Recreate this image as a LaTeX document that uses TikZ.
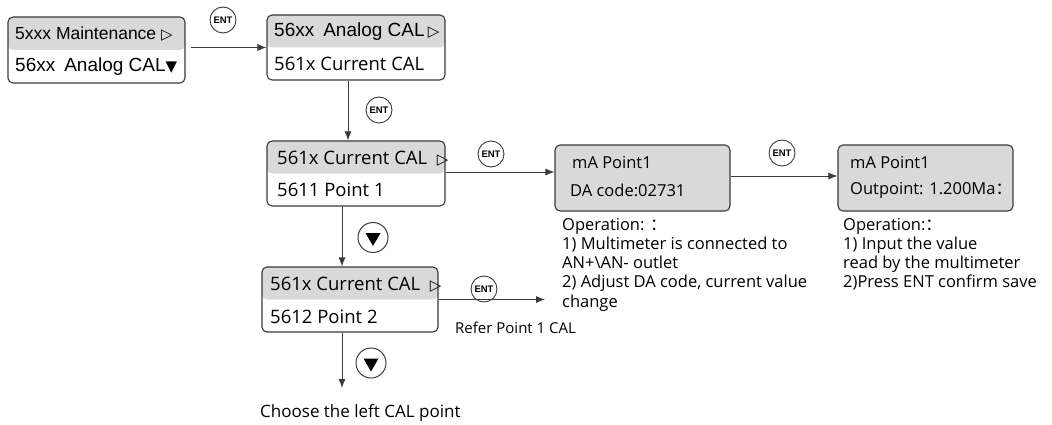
\documentclass[tikz,border=0pt]{standalone}
\usepackage{fontspec}
\setmainfont{Open Sans}
\newfontfamily\arialfont{Liberation Sans}
\newfontfamily\symfont{DejaVu Sans}
\newfontfamily\cjkfont{Noto Sans CJK SC}
\usetikzlibrary{arrows.meta, positioning, calc}
\definecolor{boxgray}{HTML}{D9D9D9}
\definecolor{linegray}{HTML}{3A3A3A}
\tikzset{
  menubox/.style={draw=linegray, line width=1.1pt, rounded corners=5pt, minimum width=177pt, minimum height=65pt, inner sep=0pt},
  halfgray/.style={menubox, path picture={\fill[boxgray] (path picture bounding box.north west) rectangle (path picture bounding box.east);}},
  fullgray/.style={menubox, fill=boxgray},
  flow/.style={draw=linegray, line width=0.9pt, -{Latex[length=9pt,width=7pt]}},
  entkey/.style={circle, draw=linegray, line width=0.9pt, minimum size=26pt, inner sep=0pt, font=\arialfont\bfseries\fontsize{9.5}{9.5}\selectfont},
  downkey/.style={circle, draw=linegray, line width=1pt, minimum size=30pt, inner sep=0pt, path picture={\fill[black] ($(path picture bounding box.center)+(-7.5,-4.5)$) -- ++(15,0) -- ++(-7.5,13) -- cycle;}},
  boxtext/.style={anchor=west, inner sep=0pt, font=\fontsize{18.5}{18.5}\selectfont},
  screentext/.style={anchor=west, inner sep=0pt, font=\fontsize{16.5}{16.5}\selectfont},
  arialtext/.style={anchor=west, inner sep=0pt, font=\arialfont\fontsize{17.5}{17.5}\selectfont},
  optext/.style={anchor=north west, inner sep=0pt, align=left, font=\fontsize{16.5}{19.2}\selectfont},
}
\begin{document}
\begin{tikzpicture}[x=1pt, y=-1pt]
\useasboundingbox (0,0) rectangle (1052,425);

\node[halfgray, minimum height=66pt] (maint) at (96.5,50) {};
\node[halfgray, minimum width=178pt] (analog) at (356,47.5) {};
\node[halfgray, minimum width=178pt] (current) at (356,173.5) {};
\node[halfgray, minimum width=176pt] (point2) at (350,299.5) {};
\node[fullgray, minimum width=175pt, minimum height=66pt] (dacode) at (642.5,178) {};
\node[fullgray, minimum width=175pt, minimum height=66pt] (outpoint) at (925.5,178) {};

\node[arialtext] (maintTop) at (15,34) {5xxx Maintenance {\symfont\fontsize{15}{15}\selectfont ▷}};
\node[arialtext, font=\arialfont\fontsize{19}{19}\selectfont] (maintBot) at (15,67) {56xx\hspace{9pt}Analog CAL{\symfont\fontsize{15}{15}\selectfont ▼}};
\node[arialtext, font=\arialfont\fontsize{19}{19}\selectfont] (analogTop) at (274,32) {56xx\hspace{9pt}Analog CAL\,{\symfont\fontsize{15}{15}\selectfont ▷}};
\node[boxtext] (analogBot) at (274,64) {561x Current CAL};
\node[boxtext] (currentTop) at (277,159) {561x Current CAL\ \ {\symfont\fontsize{15}{15}\selectfont ▷}};
\node[boxtext] (currentBot) at (277,190) {5611 Point 1};
\node[boxtext] (point2Top) at (270,285) {561x Current CAL\ \ {\symfont\fontsize{15}{15}\selectfont ▷}};
\node[boxtext] (point2Bot) at (270,317) {5612 Point 2};
\node[screentext] (dacodeTop) at (572,163) {mA Point1};
\node[screentext] (dacodeBot) at (570,190) {DA code:02731};
\node[screentext] (outpointTop) at (850,163) {mA Point1};
\node[screentext] (outpointBot) at (850,190) {Outpoint: 1.200Ma{\cjkfont ：}};

\node[optext] (dacodeOp) at (562,218) {Operation: {\cjkfont ：}\\1) Multimeter is connected to\\AN+\textbackslash AN- outlet\\2) Adjust DA code, current value\\change};
\node[optext] (outpointOp) at (843,218) {Operation:{\cjkfont ：}\\1) Input the value\\read by the multimeter\\2)Press ENT confirm save};
\node[boxtext, font=\fontsize{15}{15}\selectfont] (refer) at (455,328) {Refer Point 1 CAL};
\node[boxtext, font=\fontsize{17}{17}\selectfont] (choose) at (260,413) {Choose the left CAL point};

\node[entkey] (ent1) at (223,20) {ENT};
\node[entkey] (ent2) at (379,110) {ENT};
\node[entkey] (ent3) at (491,154) {ENT};
\node[entkey] (ent4) at (782,153) {ENT};
\node[entkey] (ent5) at (484,289) {ENT};
\node[downkey] (down1) at (373,237.5) {};
\node[downkey] (down2) at (371,363) {};

\coordinate (referEnd) at (545,299.5);
\coordinate (chooseEnd) at (342,388);

\draw[flow, shorten <=5pt] (maint.east |- analog.west) -- (analog.west);
\draw[flow] ([xshift=-8pt]analog.south) -- ([xshift=-8pt]analog.south |- current.north);
\draw[flow] ([xshift=-8pt]point2.north |- current.south) -- ([xshift=-8pt]point2.north);
\draw[flow] ([yshift=1.5pt]current.east) -- ([yshift=1.5pt]current.east -| dacode.west);
\draw[flow] ([yshift=2pt]dacode.east) -- ([yshift=2pt]outpoint.west);
\draw[flow] (point2.east) -- (referEnd);
\draw[flow] ([xshift=-8pt]point2.south) -- (chooseEnd);
\end{tikzpicture}
\end{document}
